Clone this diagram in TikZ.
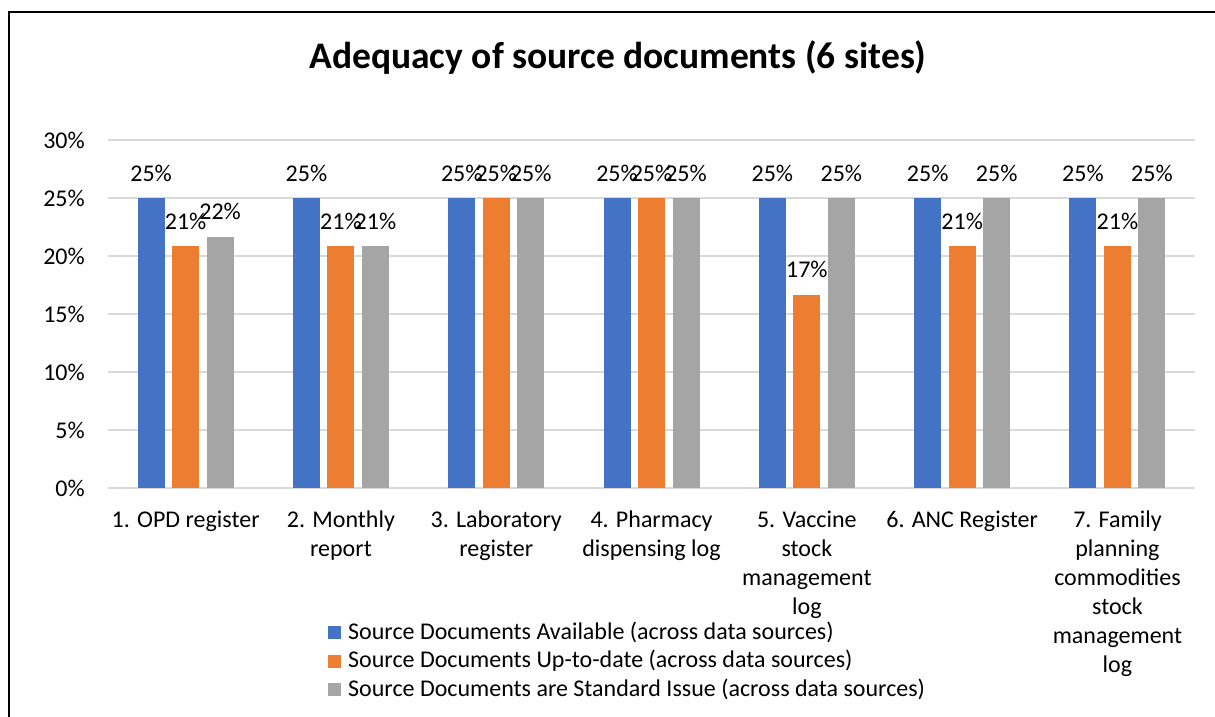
\documentclass[tikz,border=0pt]{standalone}
\usepackage{fontspec}
\setmainfont{Carlito}
\usepackage{tikz}
\usetikzlibrary{positioning}
\definecolor{availcol}{HTML}{4472C4}
\definecolor{datecol}{HTML}{ED7D31}
\definecolor{issuecol}{HTML}{A5A5A5}
\definecolor{gridcol}{HTML}{D9D9D9}

\begin{document}
\begin{tikzpicture}[x=1pt,y=-1pt,thin]

    \tikzset{gridline/.style={draw=gridcol, line width=1.5pt},
             vallabel/.style={font=\fontsize{24}{24}\selectfont, inner sep=0pt},
             catlabel/.style={font=\fontsize{24}{29}\selectfont, align=center, anchor=north, inner sep=0pt},
             ticklabel/.style={font=\fontsize{24}{24}\selectfont, anchor=east, inner sep=0pt},
             legkey/.style={minimum size=13pt, inner sep=0pt},
             legtext/.style={font=\fontsize{24}{24}\selectfont, anchor=west, inner sep=0pt}}

    \useasboundingbox (0,0) rectangle (1215,717);
    \fill[white] (0,0) rectangle (1215,717);
    \draw[line width=2pt] (9,717) -- (9,12) -- (1215,12);

    \node[font=\bfseries\fontsize{37.5}{37.5}\selectfont] (title) at (618,58) {Adequacy of source documents (6 sites)};

    % value axis
    \foreach \v [count=\k] in {0,5,...,30} {
        \draw[gridline] (108,{488-\v*11.6}) -- (1195,{488-\v*11.6});
        \node[ticklabel] (tick\k) at (85,{488-\v*11.6}) {\v\%};
    }

    % bars: category / available / up-to-date / standard issue / printed labels
    \foreach \c/\a/\b/\g/\la/\lb/\lg in {1/25/20.83/21.67/25/21/22,
                                         2/25/20.83/20.83/25/21/21,
                                         3/25/25/25/25/25/25,
                                         4/25/25/25/25/25/25,
                                         5/25/16.67/25/25/17/25,
                                         6/25/20.83/25/25/21/25,
                                         7/25/20.83/25/25/21/25} {
        \pgfmathsetmacro\cx{108+155.3*(\c-0.5)}
        \fill[availcol] ({\cx-48},488) rectangle ({\cx-21},{488-\a*11.6});
        \fill[datecol] ({\cx-13.5},488) rectangle ({\cx+13.5},{488-\b*11.6});
        \fill[issuecol] ({\cx+21},488) rectangle ({\cx+48},{488-\g*11.6});
        \node[vallabel] (avail\c) at ({\cx-34.5},{463-\a*11.6}) {\la\%};
        \node[vallabel] (date\c) at (\cx,{463-\b*11.6}) {\lb\%};
        \node[vallabel] (issue\c) at ({\cx+34.5},{463-\g*11.6}) {\lg\%};
    }

    % categories
    \foreach \c/\txt in {1/{1. OPD register},
                         2/{2. Monthly\\report},
                         3/{3. Laboratory\\register},
                         4/{4. Pharmacy\\dispensing log},
                         5/{5. Vaccine\\stock\\management\\log},
                         6/{6. ANC Register},
                         7/{7. Family\\planning\\commodities\\stock\\management\\log}} {
        \node[catlabel] (cat\c) at ({108+155.3*(\c-0.5)},511) {\txt};
    }

    % legend
    \node[legkey, fill=availcol] (keyA) at (334.5,632) {};
    \node[legkey, fill=datecol] (keyB) at (334.5,661) {};
    \node[legkey, fill=issuecol] (keyC) at (334.5,689) {};
    \node[legtext] (legA) at (348,632) {Source Documents Available (across data sources)};
    \node[legtext] (legB) at (348,661) {Source Documents Up-to-date (across data sources)};
    \node[legtext] (legC) at (348,689) {Source Documents are Standard Issue (across data sources)};
\end{tikzpicture}
\end{document}
